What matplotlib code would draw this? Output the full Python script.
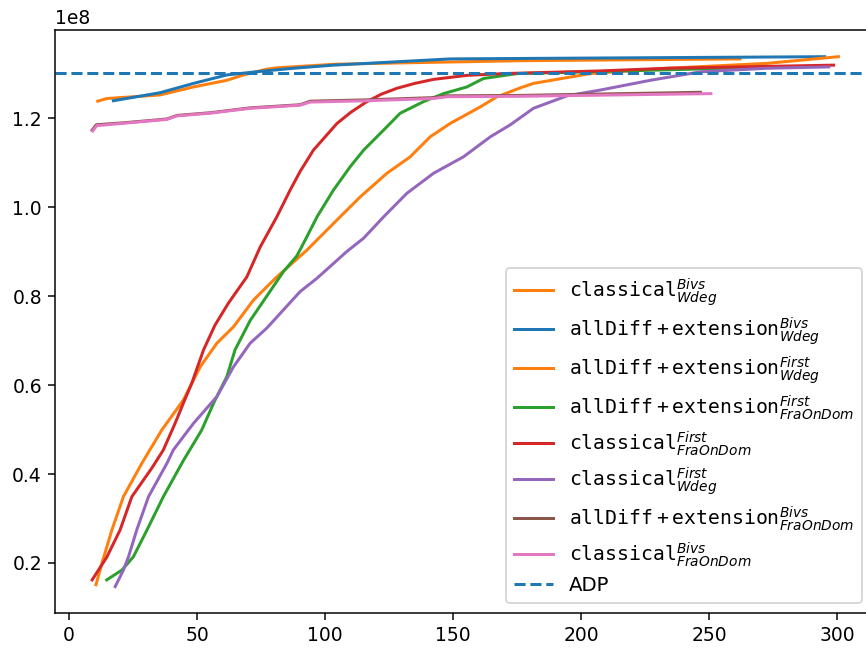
import matplotlib
matplotlib.use('Agg')
import numpy as np
import matplotlib.pyplot as plt

# values in units of 1e8
cls_bivs_wdeg_x = [11.2, 14.7, 35.5, 48.6, 61.6, 68.1, 77.2, 81.1, 98, 103.2, 129.3, 176.2, 262]
cls_bivs_wdeg_y = [1.238, 1.244, 1.252, 1.270, 1.285, 1.297, 1.310, 1.313, 1.319, 1.321, 1.324, 1.329, 1.333]

ad_bivs_wdeg_x = [17.3, 35.5, 48.6, 61.6, 74.6, 87.6, 103.2, 129.3, 148.8, 176.2, 295]
ad_bivs_wdeg_y = [1.239, 1.257, 1.278, 1.297, 1.305, 1.312, 1.319, 1.327, 1.333, 1.334, 1.338]

ad_first_wdeg_x = [10.5, 12.8, 16.7, 21.2, 28.4, 36.2, 44.6, 51.2, 57.7, 64.2, 72, 81.1, 92.8, 104.6,
                   113.7, 124.1, 133.2, 141, 148.8, 160.5, 167.1, 176.2, 181.3, 203.5, 233.5, 272.5, 285.5, 300.4]
ad_first_wdeg_y = [0.151, 0.199, 0.274, 0.349, 0.424, 0.499, 0.566, 0.641, 0.694, 0.731, 0.791, 0.843, 0.903, 0.971,
                   1.023, 1.076, 1.113, 1.158, 1.188, 1.225, 1.248, 1.268, 1.278, 1.300, 1.312, 1.323, 1.330, 1.338]

ad_first_fra_x = [14.7, 20.6, 25.1, 30.4, 36.8, 44.6, 51.8, 56.4, 61.6, 64.8, 70.7, 77.2, 83.7, 88.9, 92.2,
                  96.8, 103.2, 109.8, 115, 122.8, 129.3, 138.4, 146.2, 155.3, 161.8, 174.9, 230, 285]
ad_first_fra_y = [0.162, 0.184, 0.214, 0.274, 0.349, 0.430, 0.499, 0.559, 0.619, 0.679, 0.745, 0.800, 0.855, 0.890, 0.926,
                  0.978, 1.038, 1.091, 1.128, 1.173, 1.211, 1.237, 1.255, 1.270, 1.289, 1.300, 1.308, 1.316]

cls_first_fra_x = [9.0, 14.7, 19.9, 24.5, 32.5, 36.8, 41.4, 44.6, 47.9, 52.5, 57, 62.2, 69.4, 74.6, 81.1, 86.3,
                   90.2, 95.4, 104.6, 110, 116, 122, 128, 135, 142.3, 155.3, 169.6, 207.4, 233.5, 298.5]
cls_first_fra_y = [0.162, 0.213, 0.274, 0.349, 0.415, 0.454, 0.514, 0.559, 0.604, 0.679, 0.735, 0.784, 0.843, 0.910, 0.978, 1.038,
                   1.080, 1.128, 1.188, 1.213, 1.236, 1.254, 1.267, 1.278, 1.287, 1.296, 1.300, 1.306, 1.312, 1.319]

cls_first_wdeg_x = [18, 21.2, 23.2, 26.4, 31, 38.2, 40.7, 46.6, 48.6, 57.7, 64.2, 70.7, 77.2, 83.7, 90.2, 96.8,
                    103.2, 108.4, 115, 122.8, 131.9, 142.3, 154, 164.5, 172.3, 181.3, 194.4, 207.4, 227, 246.5, 272.5, 296.6]
cls_first_wdeg_y = [0.147, 0.184, 0.214, 0.274, 0.349, 0.424, 0.454, 0.499, 0.514, 0.574, 0.641, 0.694, 0.728, 0.769, 0.810, 0.840,
                    0.873, 0.900, 0.930, 0.978, 1.031, 1.076, 1.113, 1.158, 1.185, 1.222, 1.250, 1.263, 1.285, 1.304, 1.312, 1.315]

ad_bivs_fra_x = [9.0, 10.6, 22.5, 38.2, 42.1, 55.1, 70.7, 90.2, 94.1, 116.3, 142.3, 147.5, 176.2, 246.5]
ad_bivs_fra_y = [1.173, 1.185, 1.190, 1.198, 1.206, 1.212, 1.223, 1.230, 1.238, 1.241, 1.246, 1.250, 1.251, 1.258]

cls_bivs_fra_x = [9.2, 10.8, 22.5, 38.2, 42.1, 55.1, 70.7, 90.2, 94.1, 116.3, 142.3, 147.5, 176.2, 250.6]
cls_bivs_fra_y = [1.171, 1.183, 1.189, 1.197, 1.205, 1.211, 1.222, 1.229, 1.236, 1.239, 1.244, 1.248, 1.249, 1.255]

adp = 1.301

labels = [r'$\mathtt{classical}_{Wdeg}^{Bivs}$',
          r'$\mathtt{allDiff+extension}_{Wdeg}^{Bivs}$',
          r'$\mathtt{allDiff+extension}_{Wdeg}^{First}$',
          r'$\mathtt{allDiff+extension}_{FraOnDom}^{First}$',
          r'$\mathtt{classical}_{FraOnDom}^{First}$',
          r'$\mathtt{classical}_{Wdeg}^{First}$',
          r'$\mathtt{allDiff+extension}_{FraOnDom}^{Bivs}$',
          r'$\mathtt{classical}_{FraOnDom}^{Bivs}$']

series = [(cls_bivs_wdeg_x, cls_bivs_wdeg_y, 'C1'),
          (ad_bivs_wdeg_x, ad_bivs_wdeg_y, 'C0'),
          (ad_first_wdeg_x, ad_first_wdeg_y, 'C1'),
          (ad_first_fra_x, ad_first_fra_y, 'C2'),
          (cls_first_fra_x, cls_first_fra_y, 'C3'),
          (cls_first_wdeg_x, cls_first_wdeg_y, 'C4'),
          (ad_bivs_fra_x, ad_bivs_fra_y, 'C5'),
          (cls_bivs_fra_x, cls_bivs_fra_y, 'C6')]

fig = plt.figure(figsize=(866 / 135, 648 / 135), dpi=135)
ax = fig.add_axes([55 / 866, 1 - 613 / 648, (872 - 55) / 866, (613 - 30) / 648])

for (xs, ys, col), lab in zip(series, labels):
    ax.plot(xs, np.array(ys) * 1e8, color=col, label=lab, linewidth=1.6)

ax.axhline(adp * 1e8, color='C0', linestyle='--', linewidth=1.6, label='ADP')

ax.set_xlim(-5.5, 313.5)
ax.set_ylim(0.0876e8, 1.398e8)
ax.set_xticks([0, 50, 100, 150, 200, 250, 300])
ax.legend(loc='lower right', fontsize=10.5, labelspacing=0.37)

plt.savefig('out.png', dpi=135)
